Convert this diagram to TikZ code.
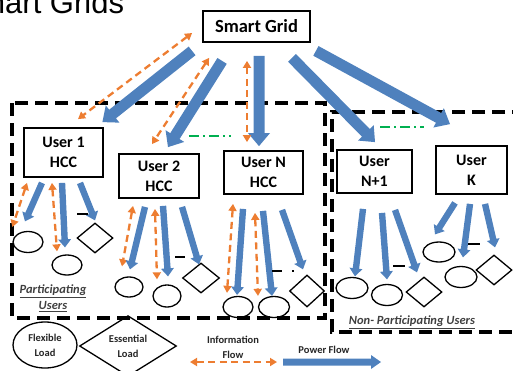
\documentclass[tikz,border=0pt]{standalone}
\usepackage{fontspec}
\setmainfont{Carlito}
\newfontfamily\headfont{Liberation Sans}
\usetikzlibrary{arrows.meta,shapes.geometric,calc}

\definecolor{pwrblue}{HTML}{4F81BD}
\definecolor{infoorange}{HTML}{ED7D31}
\definecolor{linkgreen}{HTML}{00B050}
\definecolor{labelgray}{HTML}{404040}

\tikzset{
  % filled block arrow: shaft half width, head half width, head length
  blockarrow/.style n args={3}{to path={
      (\tikztostart) coordinate (ba-s) (\tikztotarget) coordinate (ba-t)
      ($(ba-t)!#3!(ba-s)$) coordinate (ba-h)
      ($(ba-s)!#1!90:(ba-t)$) -- ($(ba-h)!#1!90:(ba-t)$)
      -- ($(ba-h)!#2!90:(ba-t)$) -- (ba-t)
      -- ($(ba-h)!#2!-90:(ba-t)$) -- ($(ba-h)!#1!-90:(ba-t)$)
      -- ($(ba-s)!#1!-90:(ba-t)$) -- cycle}},
  mainflow/.style={fill=pwrblue, blockarrow={5.5pt}{11pt}{13pt}},
  loadflow/.style={fill=pwrblue, blockarrow={3.2pt}{6.5pt}{8pt}},
  info/.style={draw=infoorange, line width=2.3pt, dash pattern=on 7pt off 4.5pt,
    {Triangle[length=7pt,width=8pt]}-{Triangle[length=7pt,width=8pt]}},
  groupframe/.style={draw=black, line width=3.5pt, dash pattern=on 13pt off 7pt},
  peerlink/.style={draw=linkgreen, line width=2pt, dash pattern=on 10pt off 4pt on 2pt off 4pt},
  minusbar/.style={draw=black, line width=2pt},
  gridbox/.style={draw, line width=1.8pt, font=\bfseries\fontsize{18.5}{20}\selectfont,
    minimum width=107pt, minimum height=31pt, inner sep=0pt},
  hccbox/.style={draw, line width=1.8pt, align=center,
    font=\bfseries\fontsize{16}{20}\selectfont, inner sep=0pt},
  flexload/.style={ellipse, draw, line width=1.3pt, inner sep=0pt},
  essload/.style={diamond, draw, line width=1.3pt, inner sep=0pt},
  legendtext/.style={font=\bfseries\fontsize{10.5}{15}\selectfont, align=center, text=black!85},
  grouplabel/.style={font=\bfseries\itshape\fontsize{12.5}{16}\selectfont, text=labelgray, align=center}
}

\begin{document}
\begin{tikzpicture}[x=1pt,y=-1pt]
\useasboundingbox (0,0) rectangle (513,370);
\clip (0,0) rectangle (513,370);

% slide heading, partly outside the frame
\node[anchor=base west, inner sep=0pt, font=\headfont\fontsize{31}{31}\selectfont] (title) at (-41.5,13) {Smart Grids};

% group frames
\draw[groupframe] (12,103) rectangle (325,318);
\draw[groupframe] (525,112) -- (332,112) -- (332,332) -- (525,332);

% grid and home control centres
\node[gridbox] (sg) at (256.5,26.5) {Smart Grid};
\node[hccbox, minimum width=79pt, minimum height=49pt] (u1) at (63.5,152.5) {User 1\\HCC};
\node[hccbox, minimum width=80pt, minimum height=44pt] (u2) at (159,176) {User 2\\HCC};
\node[hccbox, minimum width=79pt, minimum height=43pt] (un) at (263.5,172.5) {User N\\HCC};
\node[hccbox, minimum width=75pt, minimum height=43pt] (un1) at (374.5,171.5) {User\\N+1};
\node[hccbox, minimum width=71pt, minimum height=48pt] (uk) at (471.5,170) {User\\K};

% loads
\node[flexload, minimum width=30pt, minimum height=21pt] (e1a) at (28,242) {};
\node[flexload, minimum width=30pt, minimum height=20pt] (e1b) at (67,265) {};
\node[essload, minimum width=36pt, minimum height=30pt] (d1) at (95,238) {};
\node[flexload, minimum width=28pt, minimum height=20pt] (e2a) at (129,287) {};
\node[flexload, minimum width=28pt, minimum height=22pt] (e2b) at (167,296) {};
\node[essload, minimum width=37pt, minimum height=30pt] (d2) at (201,278) {};
\node[flexload, minimum width=30pt, minimum height=21pt] (ena) at (238,307) {};
\node[flexload, minimum width=31pt, minimum height=21pt] (enb) at (274,307) {};
\node[essload, minimum width=35pt, minimum height=32pt] (dn) at (307,291) {};
\node[flexload, minimum width=32pt, minimum height=21pt] (e3a) at (352,288) {};
\node[flexload, minimum width=31pt, minimum height=21pt] (e3b) at (387,295) {};
\node[essload, minimum width=36pt, minimum height=30pt] (d3) at (424,292) {};
\node[flexload, minimum width=32pt, minimum height=20pt] (eka) at (439,252) {};
\node[flexload, minimum width=32pt, minimum height=21pt] (ekb) at (461,277) {};
\node[essload, minimum width=36pt, minimum height=30pt] (dk) at (494,270) {};

% grid to users: power and information
\fill[mainflow] ([shift={(-10,8)}]sg.south west) to ([shift={(-1.5,-5)}]u1.north east);
\fill[mainflow] ([shift={(20,18)}]sg.south west) to ([shift={(9,-6)}]u2.north);
\fill[mainflow] ([shift={(2.5,13)}]sg.south) to ([shift={(-4.5,-4)}]un.north);
\fill[mainflow] ([shift={(35.5,15)}]sg.south) to ([shift={(0.5,-7)}]un1.north);
\fill[mainflow] ([shift={(5,8)}]sg.south east) to ([shift={(-21.5,-21)}]uk.north);
\draw[info] ([shift={(-10,6.5)}]sg.west) -- ([shift={(14.5,-8)}]u1.north);
\draw[info] ([shift={(7,15)}]sg.south west) -- ([shift={(-7,-9)}]u2.north);
\draw[info] ([shift={(-9.5,18)}]sg.south) -- ([shift={(-16.5,-8)}]un.north);

% links between peer users
\draw[peerlink] ([shift={(-11,-17)}]u2.north east) -- ([shift={(8,-14)}]un.north west);
\draw[peerlink] ([shift={(5.5,-22)}]un1.north) -- ([shift={(-11,-18)}]uk.north west);

% user 1
\draw[info] ([shift={(-36.5,5)}]u1.south) -- ([shift={(0,-15)}]e1a.west);
\fill[loadflow] ([shift={(-21.5,5)}]u1.south) to ([shift={(-3,-9.5)}]e1a.north);
\draw[info] ([shift={(-11.5,5)}]u1.south) -- ([shift={(-10,-3)}]e1b.north);
\fill[loadflow] ([shift={(-1.5,5)}]u1.south) to ([shift={(-2,-7)}]e1b.north);
\fill[loadflow] ([shift={(16.5,5)}]u1.south) to ([shift={(0,-2)}]d1.north);
\draw[minusbar] ([shift={(-18,-8)}]d1.north) -- ++(11,0);

% user 2
\draw[info] ([shift={(-26,7)}]u2.south) -- ([shift={(-7,-10)}]e2a.north);
\fill[loadflow] ([shift={(-14,8)}]u2.south) to ([shift={(1,-7)}]e2a.north);
\draw[info] ([shift={(-4,10)}]u2.south) -- ([shift={(-10,-5)}]e2b.north);
\fill[loadflow] ([shift={(4,7)}]u2.south) to ([shift={(1,-8)}]e2b.north);
\fill[loadflow] ([shift={(23,8)}]u2.south) to ([shift={(-2,2)}]d2.north);
\draw[minusbar] ([shift={(-26,-5)}]d2.north) -- ++(10,0);

% user N
\draw[info] ([shift={(-30.5,9)}]un.south) -- ([shift={(-11,-3)}]ena.north);
\fill[loadflow] ([shift={(-20.5,14)}]un.south) to ([shift={(-1,-1)}]ena.north);
\draw[info] ([shift={(-8.5,18)}]un.south) -- ([shift={(-16,0)}]enb.north);
\fill[loadflow] ([shift={(-0.5,16)}]un.south) to ([shift={(-2,0)}]enb.north);
\fill[loadflow] ([shift={(18.5,15)}]un.south) to ([shift={(-4,-5)}]dn.north);
\draw[minusbar] ([shift={(-35,-3)}]dn.north) -- ++(10,0);
\draw[minusbar] ([shift={(-15,-3)}]dn.north) -- ++(1.5,0);

% user N+1
\fill[loadflow] ([shift={(-11.5,15)}]un1.south) to ([shift={(3,-0.5)}]e3a.north);
\fill[loadflow] ([shift={(7.5,19)}]un1.south) to ([shift={(0,-4.5)}]e3b.north);
\fill[loadflow] ([shift={(20.5,16)}]un1.south) to ([shift={(-7,-4)}]d3.north);
\draw[minusbar] ([shift={(-31,-10)}]d3.north) -- ++(12,0);

% user K
\fill[loadflow] ([shift={(-16.5,8)}]uk.south) to ([shift={(-4,-7)}]eka.north);
\fill[loadflow] ([shift={(-1.5,9)}]uk.south) to ([shift={(2,-8.5)}]ekb.north);
\fill[loadflow] ([shift={(13.5,9)}]uk.south) to ([shift={(1,-7)}]dk.north);
\draw[minusbar] ([shift={(-26,-10)}]dk.north) -- ++(12,0);

% group captions
\node[grouplabel] (plabel) at (53,298) {\underline{Participating}\\\underline{Users}};
\node[grouplabel] (nlabel) at (412,322) {\underline{Non- Participating Users}};

% legend
\node[flexload, minimum width=64pt, minimum height=46pt, legendtext] (lflex) at (45,345) {Flexible\\Load};
\node[essload, minimum width=97pt, minimum height=48pt, legendtext] (less) at (128,346) {Essential\\Load};
\node[legendtext] (linfo) at (233,347) {Information\\Flow};
\coordinate (ia) at (190,362);
\coordinate (ib) at (277,362);
\draw[info] (ia) -- (ib);
\node[legendtext] (lpow) at (324,350) {Power Flow};
\coordinate (pa) at (283,362);
\coordinate (pb) at (381,362);
\fill[pwrblue, blockarrow={3.5pt}{7pt}{10pt}] (pa) to (pb);
\end{tikzpicture}
\end{document}
